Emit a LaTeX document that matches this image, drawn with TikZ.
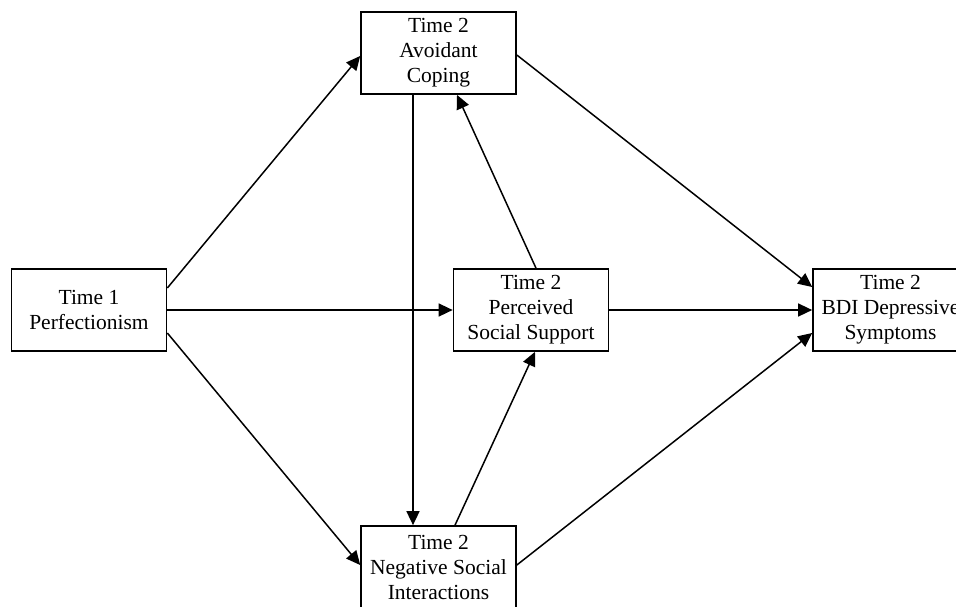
\documentclass[tikz,border=0pt]{standalone}
\usepackage{fontspec}
\setmainfont{Liberation Serif}
\usetikzlibrary{arrows.meta}
\begin{document}
\begin{tikzpicture}[x=1pt,y=-1pt,
  varbox/.style={draw, line width=1.7pt, minimum width=155pt, minimum height=82pt,
    inner sep=0pt, align=center, font=\fontsize{21.5}{25}\selectfont},
  path/.style={line width=1.5pt, -{Triangle[length=14pt,width=13pt]}}]
\useasboundingbox (0,0) rectangle (956,606);
\node[varbox] (p) at (89,310) {Time 1\\Perfectionism};
\node[varbox] (a) at (438.5,53) {Time 2\\Avoidant\\Coping};
\node[varbox] (s) at (531,310) {Time 2\\Perceived\\Social Support};
\node[varbox] (b) at (890.5,310) {Time 2\\BDI Depressive\\Symptoms};
\node[varbox] (n) at (438.5,567) {Time 2\\Negative Social\\Interactions};
\draw[path] ([yshift=22pt]p.east) -- ([yshift=-3pt]a.west);
\draw[path] (p.east) -- (s.west);
\draw[path] ([yshift=-23pt]p.east) -- ([yshift=2pt]n.west);
\draw[path] ([xshift=-25.5pt]a.south) -- ([xshift=-25.5pt]n.north);
\draw[path] ([xshift=5pt]s.north) -- ([xshift=18.5pt]a.south);
\draw[path] ([xshift=16.5pt]n.north) -- ([xshift=4pt]s.south);
\draw[path] (s.east) -- (b.west);
\draw[path] ([yshift=-2pt]a.east) -- ([yshift=23pt]b.west);
\draw[path] ([yshift=2pt]n.east) -- ([yshift=-23pt]b.west);
\end{tikzpicture}
\end{document}
